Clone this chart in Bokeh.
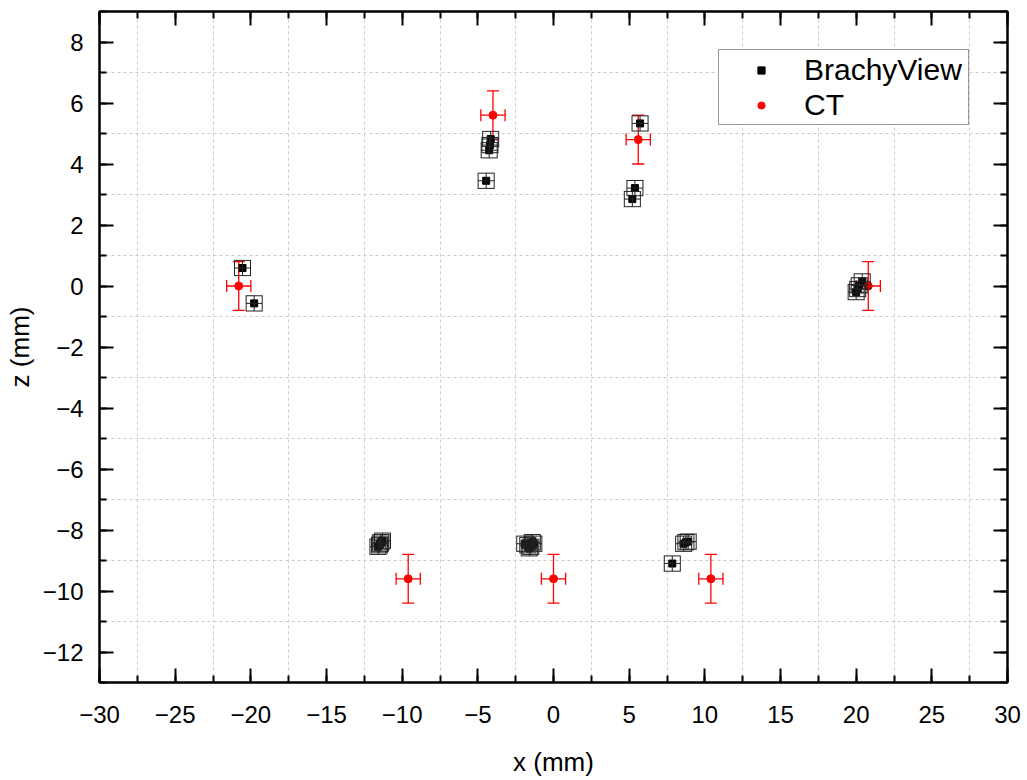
from bokeh.plotting import figure
from bokeh.models import (ColumnDataSource, Whisker, TeeHead, LinearAxis,
                          SingleIntervalTicker, FixedTicker, Range1d,
                          CustomJSTickFormatter)
from bokeh.embed import file_html
from bokeh.resources import INLINE

# ---- data ----
bv_x = [-4.15, -4.2, -4.25, -4.45,
        5.72, 5.38, 5.21,
        -20.55, -19.78,
        20.4, 20.2, 20.1, 20.0,
        -11.6, -11.5, -11.4, -11.3, -11.45,
        -1.9, -1.7, -1.5, -1.3, -1.6, -1.4,
        8.6, 8.75, 8.9, 7.85]
bv_z = [4.82, 4.62, 4.45, 3.45,
        5.33, 3.21, 2.85,
        0.59, -0.57,
        0.15, 0.02, -0.1, -0.2,
        -8.55, -8.5, -8.4, -8.35, -8.45,
        -8.45, -8.5, -8.55, -8.45, -8.6, -8.4,
        -8.45, -8.4, -8.38, -9.1]
bv_xerr = [0.53] * len(bv_x)
bv_zerr = [0.25] * len(bv_x)

ct_x = [-4.0, 5.6, -20.8, 20.8, -9.6, 0.0, 10.4]
ct_z = [5.6, 4.8, 0.0, 0.0, -9.6, -9.6, -9.6]
ct_xerr = [0.8] * len(ct_x)
ct_zerr = [0.8] * len(ct_x)

x_grid_lines = [-27.5, -22.5, -17.5, -12.5, -7.5, -2.5, 2.5, 7.5, 12.5, 17.5, 22.5, 27.5]
z_grid_lines = [-11, -9, -7, -5, -3, -1, 1, 3, 5, 7]

FONT = "Liberation Sans"

bv_src = ColumnDataSource(dict(
    x=bv_x, z=bv_z,
    xl=[a - e for a, e in zip(bv_x, bv_xerr)], xu=[a + e for a, e in zip(bv_x, bv_xerr)],
    zl=[a - e for a, e in zip(bv_z, bv_zerr)], zu=[a + e for a, e in zip(bv_z, bv_zerr)]))
ct_src = ColumnDataSource(dict(
    x=ct_x, z=ct_z,
    xl=[a - e for a, e in zip(ct_x, ct_xerr)], xu=[a + e for a, e in zip(ct_x, ct_xerr)],
    zl=[a - e for a, e in zip(ct_z, ct_zerr)], zu=[a + e for a, e in zip(ct_z, ct_zerr)]))

p = figure(width=1027, height=780, output_backend="svg", toolbar_location=None,
           x_range=Range1d(-30, 30), y_range=Range1d(-13, 9),
           min_border_left=99, min_border_right=20, min_border_top=11, min_border_bottom=98,
           x_axis_label="x (mm)", y_axis_label="z (mm)")

bottom = p.below[0]
left = p.left[0]

p.outline_line_color = "black"
p.outline_line_width = 2
p.background_fill_color = "white"
p.border_fill_color = "white"

bottom.ticker = SingleIntervalTicker(interval=5, num_minor_ticks=2)
left.ticker = SingleIntervalTicker(interval=2, num_minor_ticks=2)

blank = CustomJSTickFormatter(code="return ''")
top = LinearAxis(ticker=SingleIntervalTicker(interval=5, num_minor_ticks=2), formatter=blank)
right = LinearAxis(ticker=SingleIntervalTicker(interval=2, num_minor_ticks=2), formatter=blank)
p.add_layout(top, "above")
p.add_layout(right, "right")

for ax in [bottom, left, top, right]:
    ax.axis_line_color = "black"
    ax.axis_line_width = 2
    ax.major_tick_in = 14
    ax.major_tick_out = 0
    ax.minor_tick_in = 7
    ax.minor_tick_out = 0
    ax.major_tick_line_width = 2
    ax.minor_tick_line_width = 2
    ax.major_tick_line_color = "black"
    ax.minor_tick_line_color = "black"
    ax.major_label_text_font = FONT
    ax.major_label_text_color = "black"
    ax.axis_label_text_font = FONT
    ax.axis_label_text_font_style = "normal"
    ax.axis_label_text_color = "black"

for ax in [top, right]:
    ax.major_label_text_font_size = "1px"
    ax.major_label_standoff = 0

bottom.major_label_text_font_size = "24px"
left.major_label_text_font_size = "24px"
bottom.axis_label_text_font_size = "26px"
left.axis_label_text_font_size = "26px"
bottom.major_label_standoff = 23
left.major_label_standoff = 16
bottom.axis_label_standoff = 21
left.axis_label_standoff = 5

p.xgrid.ticker = FixedTicker(ticks=x_grid_lines)
p.ygrid.ticker = FixedTicker(ticks=z_grid_lines)
for g in [p.xgrid[0], p.ygrid[0]]:
    g.grid_line_color = "#cccccc"
    g.grid_line_dash = "3 3"
    g.grid_line_width = 1
    g.minor_grid_line_color = None

# CT error bars (beneath)
RED = "#ff0000"
ct_wx = Whisker(source=ct_src, base="z", lower="xl", upper="xu", dimension="width",
                line_color=RED, line_width=1.3, level="underlay",
                lower_head=TeeHead(size=12, line_color=RED, line_width=1.3),
                upper_head=TeeHead(size=12, line_color=RED, line_width=1.3))
ct_wz = Whisker(source=ct_src, base="x", lower="zl", upper="zu", dimension="height",
                line_color=RED, line_width=1.3, level="underlay",
                lower_head=TeeHead(size=12, line_color=RED, line_width=1.3),
                upper_head=TeeHead(size=12, line_color=RED, line_width=1.3))
p.add_layout(ct_wx)
p.add_layout(ct_wz)

BLK = "#222222"
bv_wx = Whisker(source=bv_src, base="z", lower="xl", upper="xu", dimension="width",
                line_color=BLK, line_width=1, level="glyph",
                lower_head=TeeHead(size=15, line_color=BLK, line_width=1),
                upper_head=TeeHead(size=15, line_color=BLK, line_width=1))
bv_wz = Whisker(source=bv_src, base="x", lower="zl", upper="zu", dimension="height",
                line_color=BLK, line_width=1, level="glyph",
                lower_head=TeeHead(size=17, line_color=BLK, line_width=1),
                upper_head=TeeHead(size=17, line_color=BLK, line_width=1))
p.add_layout(bv_wx)
p.add_layout(bv_wz)

p.scatter("x", "z", source=bv_src, marker="square", size=7, color="black",
          legend_label="BrachyView")
p.scatter("x", "z", source=ct_src, marker="circle", size=8, color=RED,
          legend_label="CT")

lg = p.legend[0]
lg.location = "top_right"
lg.margin = 38
lg.padding = 2
lg.spacing = 0
lg.border_line_color = "#333333"
lg.border_line_width = 1.3
lg.background_fill_color = "white"
lg.background_fill_alpha = 1
lg.label_text_font = FONT
lg.label_text_font_size = "30px"
lg.label_text_color = "black"
lg.glyph_width = 80
lg.glyph_height = 18
lg.label_height = 35
lg.label_width = 162
lg.label_standoff = 3

open("out.html", "w").write(file_html(p, INLINE))
